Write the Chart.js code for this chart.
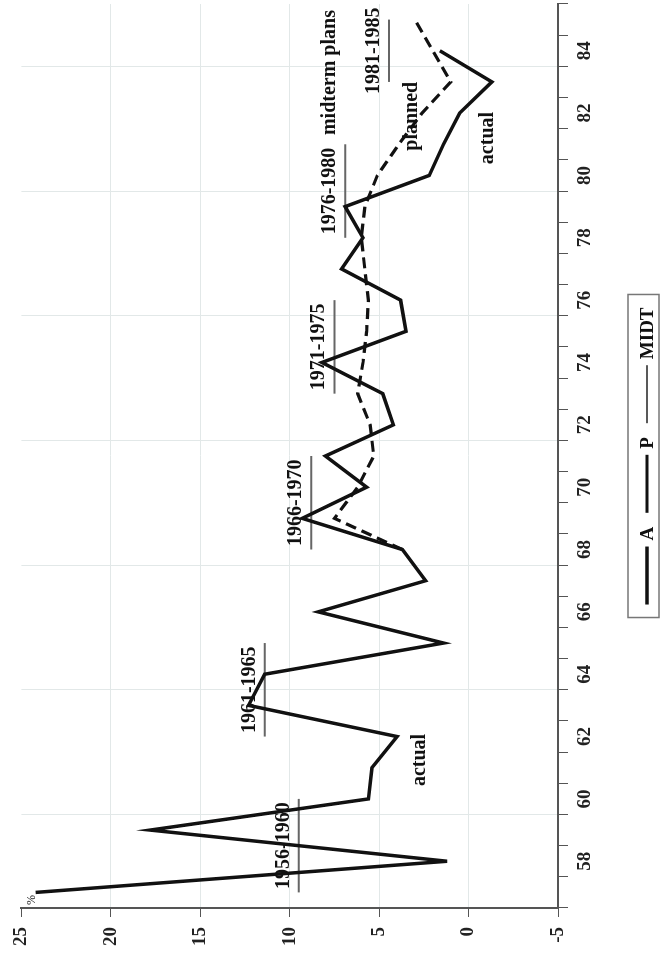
<!DOCTYPE html>
<html lang="en">
<head>
<meta charset="UTF-8">
<title>Actual and planned growth, midterm plans</title>
<script src="https://cdn.jsdelivr.net/npm/chart.js@4.4.1/dist/chart.umd.min.js"></script>
<style>
  html, body { margin: 0; padding: 0; background: #fff; overflow: hidden; }
  /* chart is drawn upright, then turned a quarter left like the scan */
  #wrap { position: absolute; left: 0; top: 0; width: 953px; height: 661px;
          transform-origin: 0 0; transform: translate(0, 953px) rotate(-90deg); }
</style>
</head>
<body>
<div id="wrap"><canvas id="myChart" width="953" height="661"></canvas></div>

<script>
const years = ['57','58','59','60','61','62','63','64','65','66','67','68','69','70','71',
               '72','73','74','75','76','77','78','79','80','81','82','83','84','85'];

// A: actual
const actual = [24.2, 1.2, 17.8, 5.6, 5.4, 4.0, 12.3, 11.4, 1.4, 8.4, 2.4, 3.7, 9.3, 5.7, 8.0,
                4.2, 4.8, 8.2, 3.5, 3.8, 7.1, 5.9, 6.9, 2.2, 1.4, 0.5, -1.3, 1.6, null];

// P: planned
const planned = [null, null, null, null, null, null, null, null, null, null, null, 3.7, 7.5, 6.2, 5.3,
                 5.5, 6.2, 5.9, 5.7, 5.6, 5.8, 6.0, 5.8, 5.1, 3.9, 2.6, 1.0, 2.0, 3.0];

// MIDT: midterm plan targets
const midterm = [9.5, 9.5, 9.5, 9.5, null, 11.4, 11.4, 11.4, 11.4, null, null, 8.8, 8.8, 8.8, 8.8,
                 null, 7.5, 7.5, 7.5, 7.5, null, 6.9, 6.9, 6.9, 6.9, null, 4.45, 4.45, 4.45];

const planNames = ['1956-1960', '1961-1965', '1966-1970', '1971-1975', '1976-1980', '1981-1985'];
const yTicks = [-5, 0, 5, 10, 15, 20, 25];

const SERIF = '"Liberation Serif", "Times New Roman", serif';
Chart.defaults.font.family = SERIF;
Chart.defaults.font.weight = 'bold';
Chart.defaults.font.size = 19;
Chart.defaults.color = '#111';

// text notes on the plot
const notesPlugin = {
  id: 'notes',
  afterDatasetsDraw(chart) {
    const { ctx, chartArea, scales: { x, y } } = chart;
    const at = yr => x.getPixelForValue(yr - 57);
    ctx.save();
    ctx.fillStyle = '#111';
    ctx.font = 'bold 20px ' + SERIF;
    ctx.textAlign = 'center';
    ctx.textBaseline = 'alphabetic';

    // one label above each plan segment
    const runs = [];
    let start = null;
    midterm.forEach((v, i) => {
      if (v !== null && start === null) start = i;
      if (start !== null && (v === null || i === midterm.length - 1)) {
        const end = v === null ? i - 1 : i;
        runs.push({ start, end, value: midterm[start] });
        start = null;
      }
    });
    runs.forEach((r, k) => {
      ctx.fillText(planNames[k], x.getPixelForValue((r.start + r.end) / 2), y.getPixelForValue(r.value) - 10);
    });
    ctx.fillText('midterm plans', at(83.3), y.getPixelForValue(runs[4].value) - 10);

    ctx.textBaseline = 'middle';
    ctx.fillText('planned', at(81.9), y.getPixelForValue(3.2));
    ctx.fillText('actual', at(81.2), y.getPixelForValue(-1.1));
    ctx.fillText('actual', at(61.25), y.getPixelForValue(2.75));

    ctx.font = '12px ' + SERIF;
    ctx.fillText('%', chartArea.left + 8, chartArea.top + 10);
    ctx.restore();
  }
};

// legend in a framed box under the axis
const boxLegend = {
  id: 'boxLegend',
  afterDraw(chart) {
    const { ctx, chartArea } = chart;
    const lineLen = 58, gap = 6, itemGap = 14, padX = 13, cy = 647;
    ctx.save();
    ctx.font = 'bold 19px ' + SERIF;
    const items = chart.data.datasets.map(ds => ({
      text: ds.label, w: ctx.measureText(ds.label).width,
      color: ds.legendColor || ds.borderColor, lw: ds.legendWidth || ds.borderWidth
    }));
    const total = items.reduce((s, it) => s + lineLen + gap + it.w, 0) + itemGap * (items.length - 1);
    let px = (chartArea.left + chartArea.right) / 2 - total / 2;

    ctx.strokeStyle = '#777';
    ctx.lineWidth = 1.5;
    ctx.strokeRect(px - padX, 628, total + 2 * padX, 31);

    ctx.textBaseline = 'middle';
    ctx.textAlign = 'left';
    items.forEach(it => {
      ctx.beginPath();
      ctx.strokeStyle = it.color;
      ctx.lineWidth = it.lw;
      ctx.moveTo(px, cy);
      ctx.lineTo(px + lineLen, cy);
      ctx.stroke();
      px += lineLen + gap;
      ctx.fillStyle = '#111';
      ctx.fillText(it.text, px, cy + 1);
      px += it.w + itemGap;
    });
    ctx.restore();
  }
};

const ctx = document.getElementById('myChart').getContext('2d');

const myChart = new Chart(ctx, {
  type: 'line',
  data: {
    labels: years,
    datasets: [
      {
        label: 'A',
        data: actual,
        borderColor: '#111',
        borderWidth: 3.5,
        pointRadius: 0,
        tension: 0
      },
      {
        label: 'P',
        data: planned,
        borderColor: '#111',
        borderWidth: 3.2,
        borderDash: [11, 6],
        pointRadius: 0,
        tension: 0
      },
      {
        label: 'MIDT',
        data: midterm,
        borderColor: '#666',
        borderWidth: 2,
        legendColor: '#222',
        legendWidth: 1.6,
        pointRadius: 0,
        spanGaps: false,
        tension: 0
      }
    ]
  },
  options: {
    responsive: false,
    animation: false,
    layout: { padding: { left: 7, right: 4, top: 16, bottom: 63 } },
    plugins: {
      legend: { display: false },
      tooltip: { enabled: false }
    },
    scales: {
      x: {
        type: 'category',
        offset: true,
        afterFit: s => { s.height = 40; },
        border: { color: '#555', width: 2 },
        grid: {
          offset: true,
          color: c => (c.index !== undefined && Number(years[c.index]) % 4 === 0 ? '#e2e8e8' : 'rgba(0,0,0,0)'),
          tickColor: '#555',
          tickLength: 10,
          lineWidth: 1
        },
        ticks: {
          autoSkip: false,
          maxRotation: 0,
          minRotation: 0,
          padding: 6,
          color: '#222',
          callback: (v, i) => (Number(years[i]) % 2 === 0 ? years[i] : '')
        }
      },
      y: {
        min: -5,
        max: 25,
        afterFit: s => { s.width = 38; },
        afterBuildTicks: s => { s.ticks = yTicks.map(v => ({ value: v })); },
        border: { color: '#555', width: 2 },
        grid: {
          color: c => (c.tick && (c.tick.value === 25 || c.tick.value === -5) ? 'rgba(0,0,0,0)' : '#e2e8e8'),
          tickColor: '#555',
          tickLength: 9,
          lineWidth: 1
        },
        ticks: {
          padding: 10,
          color: '#222'
        }
      }
    }
  },
  plugins: [notesPlugin, boxLegend]
});
</script>
</body>
</html>
